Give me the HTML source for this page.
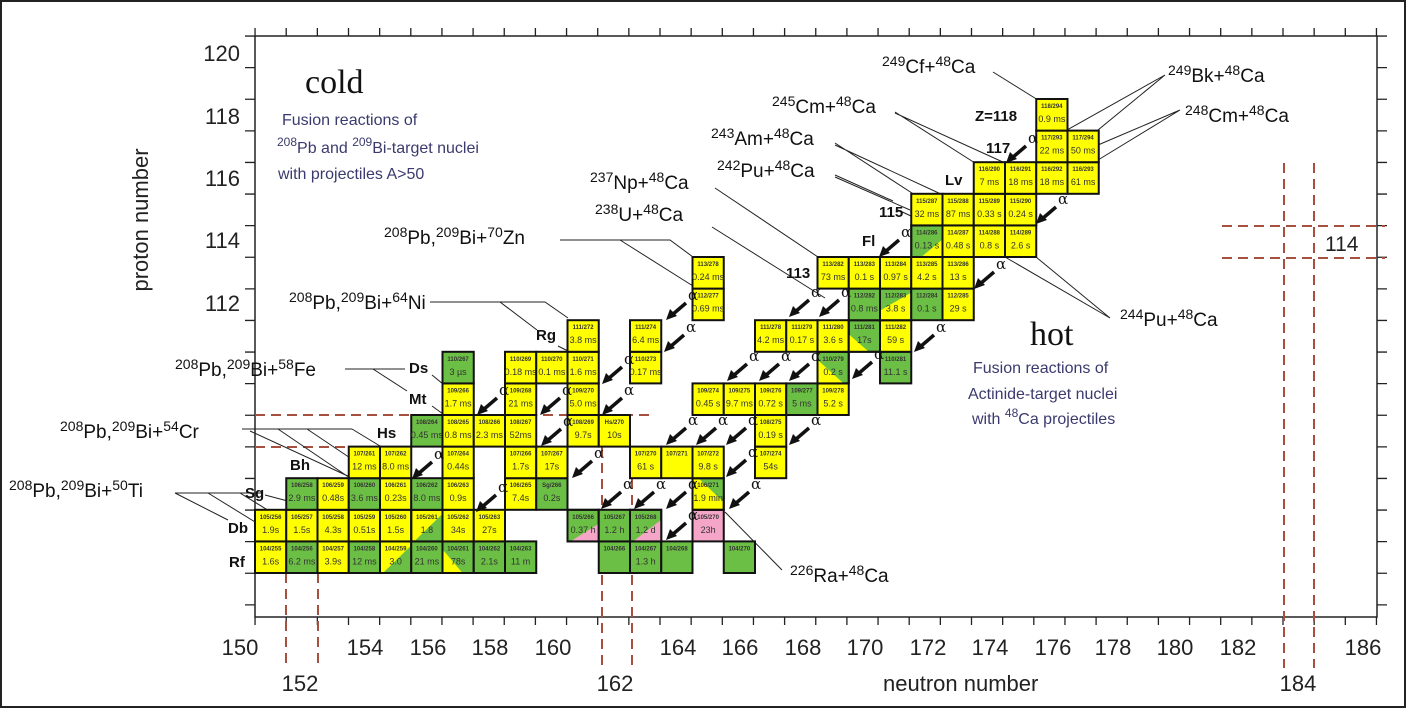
<!DOCTYPE html>
<html><head><meta charset="utf-8"><style>
html,body{margin:0;padding:0;background:#fff}
svg{display:block}
.y{fill:#ffff00}.g{fill:#6cbf45}.p{fill:#f5a6c8}
rect.c{stroke:#111;stroke-width:2}
rect.b{fill:none;stroke:#111;stroke-width:2}
text{font-family:"Liberation Sans",sans-serif}
.a{font-size:6px;font-weight:bold;fill:#333;text-anchor:middle}
.t{font-size:9px;fill:#333;text-anchor:middle}
.el{font-size:15px;font-weight:bold;fill:#111}
.rx{font-size:19px;fill:#111}
.ax{font-size:22px;fill:#222}
.bl{font-size:16px;fill:#3a3a6e}
.ln{stroke:#222;stroke-width:1;fill:none}
.dr{stroke:#a8503f;stroke-width:2;stroke-dasharray:10 6;fill:none}
.al{font-size:15px;fill:#111;font-family:"DejaVu Serif",serif}
.sf{font-family:"Liberation Serif",serif;font-size:34px;fill:#111}
</style></head><body>
<svg width="1407" height="709" viewBox="0 0 1407 709" xmlns="http://www.w3.org/2000/svg">
<rect x="1" y="1" width="1404" height="706" fill="#fff" stroke="#222" stroke-width="2"/>
<rect x="255" y="36" width="1122" height="581" fill="none" stroke="#222" stroke-width="1.5"/>
<line x1="254.4" y1="32" x2="1378" y2="32" stroke="#222" stroke-width="8" stroke-dasharray="1.3 29.85"/>
<line x1="254.4" y1="621" x2="1378" y2="621" stroke="#222" stroke-width="8" stroke-dasharray="1.3 29.85"/>
<line x1="250" y1="35.4" x2="250" y2="618" stroke="#222" stroke-width="10" stroke-dasharray="1.3 30.3"/>
<line x1="1382" y1="35.4" x2="1382" y2="618" stroke="#222" stroke-width="10" stroke-dasharray="1.3 30.3"/>
<g class="ax" text-anchor="end">
<text x="240" y="61">120</text><text x="240" y="124">118</text><text x="240" y="186">116</text><text x="240" y="248">114</text><text x="240" y="311">112</text>
</g>
<text class="ax" transform="translate(148,220) rotate(-90)" text-anchor="middle" font-size="21">proton  number</text>
<g class="ax" text-anchor="middle">
<text x="240" y="655">150</text><text x="365" y="655">154</text><text x="428" y="655">156</text><text x="490" y="655">158</text><text x="553" y="655">160</text>
<text x="678" y="655">164</text><text x="740" y="655">166</text><text x="803" y="655">168</text><text x="865" y="655">170</text><text x="928" y="655">172</text>
<text x="990" y="655">174</text><text x="1053" y="655">176</text><text x="1113" y="655">178</text><text x="1175" y="655">180</text><text x="1238" y="655">182</text><text x="1363" y="655">186</text>
<text x="300" y="691">152</text><text x="615" y="691">162</text><text x="1298" y="691">184</text>
</g>
<text class="ax" x="883" y="691" font-size="20">neutron  number</text>
<path class="dr" d="M286 573V668M318 573V668M602 447V668M632 447V668M255 415H650M255 447H350"/>
<path class="dr" d="M1284 163V668M1314 163V668M1222 226H1385M1222 258H1385" stroke-width="4"/>
<text x="1325" y="251" font-size="21" fill="#222">114</text>
<text x="305" y="93" class="sf" style="font-family:'Liberation Serif',serif">cold</text>
<text class="bl" x="282" y="125">Fusion reactions of</text>
<text class="bl" x="277" y="153"><tspan font-size="12" dy="-7">208</tspan><tspan dy="7">Pb and </tspan><tspan font-size="12" dy="-7">209</tspan><tspan dy="7">Bi-target nuclei</tspan></text>
<text class="bl" x="278" y="179">with  projectiles A&gt;50</text>
<text x="1030" y="345" class="sf" style="font-family:'Liberation Serif',serif">hot</text>
<text class="bl" x="973" y="373">Fusion reactions of</text>
<text class="bl" x="968" y="399">Actinide-target  nuclei</text>
<text class="bl" x="972" y="424">with <tspan font-size="12" dy="-7">48</tspan><tspan dy="7">Ca projectiles</tspan></text>
<g class="rx">
<text x="9" y="497"><tspan font-size="14" dy="-7">208</tspan><tspan dy="7">Pb,</tspan><tspan font-size="14" dy="-7">209</tspan><tspan dy="7">Bi+</tspan><tspan font-size="14" dy="-7">50</tspan><tspan dy="7">Ti</tspan></text>
<text x="60" y="438"><tspan font-size="14" dy="-7">208</tspan><tspan dy="7">Pb,</tspan><tspan font-size="14" dy="-7">209</tspan><tspan dy="7">Bi+</tspan><tspan font-size="14" dy="-7">54</tspan><tspan dy="7">Cr</tspan></text>
<text x="175" y="376"><tspan font-size="14" dy="-7">208</tspan><tspan dy="7">Pb,</tspan><tspan font-size="14" dy="-7">209</tspan><tspan dy="7">Bi+</tspan><tspan font-size="14" dy="-7">58</tspan><tspan dy="7">Fe</tspan></text>
<text x="289" y="309"><tspan font-size="14" dy="-7">208</tspan><tspan dy="7">Pb,</tspan><tspan font-size="14" dy="-7">209</tspan><tspan dy="7">Bi+</tspan><tspan font-size="14" dy="-7">64</tspan><tspan dy="7">Ni</tspan></text>
<text x="384" y="244"><tspan font-size="14" dy="-7">208</tspan><tspan dy="7">Pb,</tspan><tspan font-size="14" dy="-7">209</tspan><tspan dy="7">Bi+</tspan><tspan font-size="14" dy="-7">70</tspan><tspan dy="7">Zn</tspan></text>
<text x="595" y="221"><tspan font-size="14" dy="-7">238</tspan><tspan dy="7">U+</tspan><tspan font-size="14" dy="-7">48</tspan><tspan dy="7">Ca</tspan></text>
<text x="590" y="189"><tspan font-size="14" dy="-7">237</tspan><tspan dy="7">Np+</tspan><tspan font-size="14" dy="-7">48</tspan><tspan dy="7">Ca</tspan></text>
<text x="717" y="177"><tspan font-size="14" dy="-7">242</tspan><tspan dy="7">Pu+</tspan><tspan font-size="14" dy="-7">48</tspan><tspan dy="7">Ca</tspan></text>
<text x="711" y="145"><tspan font-size="14" dy="-7">243</tspan><tspan dy="7">Am+</tspan><tspan font-size="14" dy="-7">48</tspan><tspan dy="7">Ca</tspan></text>
<text x="772" y="113"><tspan font-size="14" dy="-7">245</tspan><tspan dy="7">Cm+</tspan><tspan font-size="14" dy="-7">48</tspan><tspan dy="7">Ca</tspan></text>
<text x="882" y="73"><tspan font-size="14" dy="-7">249</tspan><tspan dy="7">Cf+</tspan><tspan font-size="14" dy="-7">48</tspan><tspan dy="7">Ca</tspan></text>
<text x="1168" y="82"><tspan font-size="14" dy="-7">249</tspan><tspan dy="7">Bk+</tspan><tspan font-size="14" dy="-7">48</tspan><tspan dy="7">Ca</tspan></text>
<text x="1185" y="122"><tspan font-size="14" dy="-7">248</tspan><tspan dy="7">Cm+</tspan><tspan font-size="14" dy="-7">48</tspan><tspan dy="7">Ca</tspan></text>
<text x="1120" y="326"><tspan font-size="14" dy="-7">244</tspan><tspan dy="7">Pu+</tspan><tspan font-size="14" dy="-7">48</tspan><tspan dy="7">Ca</tspan></text>
<text x="790" y="582"><tspan font-size="14" dy="-7">226</tspan><tspan dy="7">Ra+</tspan><tspan font-size="14" dy="-7">48</tspan><tspan dy="7">Ca</tspan></text>
</g>
<path class="ln" d="M175 493H262M175 493L228 520M208 493L286 541M240 493L318 541M265 495L318 509
M242 429H352M250 431L350 477M278 429L350 478M307 429L380 478M352 429L380 446
M345 369H405M373 369L407 391M432 375L443 384M432 406L443 414
M430 302H545L568 318M500 302L537 330M558 346L568 351
M560 240H670L693 257M620 240L693 286
M712 227L825 298M715 188L818 257
M835 175L893 201M835 177L910 210M835 143L915 195M835 145L943 195
M895 112L975 163M895 113L1005 163M993 72L1038 100
M1165 75L1067 130M1165 75L1098 130M1180 110L1098 145M1180 110L1098 160
M1110 318L1036 257M1110 318L1005 257M782 570L725 512M898 210L911 216"/>
<g class="el">
<text x="229" y="567">Rf</text><text x="228" y="533">Db</text><text x="245" y="498">Sg</text><text x="290" y="470">Bh</text>
<text x="377" y="438">Hs</text><text x="409" y="404">Mt</text><text x="409" y="373">Ds</text><text x="536" y="340">Rg</text>
<text x="760" y="336">Cn</text><text x="786" y="278">113</text><text x="862" y="246">Fl</text><text x="879" y="217">115</text>
<text x="945" y="185">Lv</text><text x="986" y="153">117</text><text x="975" y="121">Z=118</text>
</g>
<g>
<g transform="translate(255,541.4)"><rect class="c y" width="31.25" height="31.6"/><text class="a" x="15.6" y="9">104/255</text><text class="t" x="15.6" y="23">1.6s</text></g>
<g transform="translate(286.25,541.4)"><rect class="c g" width="31.25" height="31.6"/><text class="a" x="15.6" y="9">104/256</text><text class="t" x="15.6" y="23">6.2 ms</text></g>
<g transform="translate(317.5,541.4)"><rect class="c y" width="31.25" height="31.6"/><text class="a" x="15.6" y="9">104/257</text><text class="t" x="15.6" y="23">3.9s</text></g>
<g transform="translate(348.75,541.4)"><rect class="c g" width="31.25" height="31.6"/><text class="a" x="15.6" y="9">104/258</text><text class="t" x="15.6" y="23">12 ms</text></g>
<g transform="translate(380,541.4)"><rect class="c y" width="31.25" height="31.6"/><polygon class="g" points="31.25,4 31.25,31.6 3,31.6"/><rect class="b" width="31.25" height="31.6"/><text class="a" x="15.6" y="9">104/259</text><text class="t" x="15.6" y="23">3.0</text></g>
<g transform="translate(411.25,541.4)"><rect class="c g" width="31.25" height="31.6"/><text class="a" x="15.6" y="9">104/260</text><text class="t" x="15.6" y="23">21 ms</text></g>
<g transform="translate(442.5,541.4)"><rect class="c g" width="31.25" height="31.6"/><polygon class="y" points="0,31.6 0,8 20,31.6"/><rect class="b" width="31.25" height="31.6"/><text class="a" x="15.6" y="9">104/261</text><text class="t" x="15.6" y="23">78s</text></g>
<g transform="translate(473.75,541.4)"><rect class="c g" width="31.25" height="31.6"/><text class="a" x="15.6" y="9">104/262</text><text class="t" x="15.6" y="23">2.1s</text></g>
<g transform="translate(505,541.4)"><rect class="c g" width="31.25" height="31.6"/><text class="a" x="15.6" y="9">104/263</text><text class="t" x="15.6" y="23">11 m</text></g>
<g transform="translate(598.75,541.4)"><rect class="c g" width="31.25" height="31.6"/><text class="a" x="15.6" y="9">104/266</text></g>
<g transform="translate(630,541.4)"><rect class="c g" width="31.25" height="31.6"/><text class="a" x="15.6" y="9">104/267</text><text class="t" x="15.6" y="23">1.3 h</text></g>
<g transform="translate(661.25,541.4)"><rect class="c g" width="31.25" height="31.6"/><text class="a" x="15.6" y="9">104/268</text></g>
<g transform="translate(723.75,541.4)"><rect class="c g" width="31.25" height="31.6"/><text class="a" x="15.6" y="9">104/270</text></g>
<g transform="translate(255,509.8)"><rect class="c y" width="31.25" height="31.6"/><text class="a" x="15.6" y="9">105/256</text><text class="t" x="15.6" y="23">1.9s</text></g>
<g transform="translate(286.25,509.8)"><rect class="c y" width="31.25" height="31.6"/><text class="a" x="15.6" y="9">105/257</text><text class="t" x="15.6" y="23">1.5s</text></g>
<g transform="translate(317.5,509.8)"><rect class="c y" width="31.25" height="31.6"/><text class="a" x="15.6" y="9">105/258</text><text class="t" x="15.6" y="23">4.3s</text></g>
<g transform="translate(348.75,509.8)"><rect class="c y" width="31.25" height="31.6"/><text class="a" x="15.6" y="9">105/259</text><text class="t" x="15.6" y="23">0.51s</text></g>
<g transform="translate(380,509.8)"><rect class="c y" width="31.25" height="31.6"/><text class="a" x="15.6" y="9">105/260</text><text class="t" x="15.6" y="23">1.5s</text></g>
<g transform="translate(411.25,509.8)"><rect class="c y" width="31.25" height="31.6"/><polygon class="g" points="31.25,4 31.25,31.6 3,31.6"/><rect class="b" width="31.25" height="31.6"/><text class="a" x="15.6" y="9">105/261</text><text class="t" x="15.6" y="23">1.8</text></g>
<g transform="translate(442.5,509.8)"><rect class="c y" width="31.25" height="31.6"/><text class="a" x="15.6" y="9">105/262</text><text class="t" x="15.6" y="23">34s</text></g>
<g transform="translate(473.75,509.8)"><rect class="c y" width="31.25" height="31.6"/><text class="a" x="15.6" y="9">105/263</text><text class="t" x="15.6" y="23">27s</text></g>
<g transform="translate(567.5,509.8)"><rect class="c g" width="31.25" height="31.6"/><polygon class="p" points="3,31.6 31.25,14 31.25,31.6"/><rect class="b" width="31.25" height="31.6"/><text class="a" x="15.6" y="9">105/266</text><text class="t" x="15.6" y="23">0.37 h</text></g>
<g transform="translate(598.75,509.8)"><rect class="c g" width="31.25" height="31.6"/><text class="a" x="15.6" y="9">105/267</text><text class="t" x="15.6" y="23">1.2 h</text></g>
<g transform="translate(630,509.8)"><rect class="c g" width="31.25" height="31.6"/><polygon class="p" points="3,31.6 31.25,10 31.25,31.6"/><rect class="b" width="31.25" height="31.6"/><text class="a" x="15.6" y="9">105/268</text><text class="t" x="15.6" y="23">1.2 d</text></g>
<g transform="translate(692.5,509.8)"><rect class="c p" width="31.25" height="31.6"/><text class="a" x="15.6" y="9">105/270</text><text class="t" x="15.6" y="23">23h</text></g>
<g transform="translate(286.25,478.2)"><rect class="c g" width="31.25" height="31.6"/><text class="a" x="15.6" y="9">106/258</text><text class="t" x="15.6" y="23">2.9 ms</text></g>
<g transform="translate(317.5,478.2)"><rect class="c y" width="31.25" height="31.6"/><text class="a" x="15.6" y="9">106/259</text><text class="t" x="15.6" y="23">0.48s</text></g>
<g transform="translate(348.75,478.2)"><rect class="c g" width="31.25" height="31.6"/><text class="a" x="15.6" y="9">106/260</text><text class="t" x="15.6" y="23">3.6 ms</text></g>
<g transform="translate(380,478.2)"><rect class="c y" width="31.25" height="31.6"/><text class="a" x="15.6" y="9">106/261</text><text class="t" x="15.6" y="23">0.23s</text></g>
<g transform="translate(411.25,478.2)"><rect class="c g" width="31.25" height="31.6"/><text class="a" x="15.6" y="9">106/262</text><text class="t" x="15.6" y="23">8.0 ms</text></g>
<g transform="translate(442.5,478.2)"><rect class="c y" width="31.25" height="31.6"/><text class="a" x="15.6" y="9">106/263</text><text class="t" x="15.6" y="23">0.9s</text></g>
<g transform="translate(505,478.2)"><rect class="c y" width="31.25" height="31.6"/><text class="a" x="15.6" y="9">106/265</text><text class="t" x="15.6" y="23">7.4s</text></g>
<g transform="translate(536.25,478.2)"><rect class="c g" width="31.25" height="31.6"/><text class="a" x="15.6" y="9">Sg/266</text><text class="t" x="15.6" y="23">0.2s</text></g>
<g transform="translate(692.5,478.2)"><rect class="c y" width="31.25" height="31.6"/><polygon class="g" points="6,0 31.25,0 31.25,24"/><rect class="b" width="31.25" height="31.6"/><text class="a" x="15.6" y="9">106/271</text><text class="t" x="15.6" y="23">1.9 min</text></g>
<g transform="translate(348.75,446.6)"><rect class="c y" width="31.25" height="31.6"/><text class="a" x="15.6" y="9">107/261</text><text class="t" x="15.6" y="23">12 ms</text></g>
<g transform="translate(380,446.6)"><rect class="c y" width="31.25" height="31.6"/><text class="a" x="15.6" y="9">107/262</text><text class="t" x="15.6" y="23">8.0 ms</text></g>
<g transform="translate(442.5,446.6)"><rect class="c y" width="31.25" height="31.6"/><text class="a" x="15.6" y="9">107/264</text><text class="t" x="15.6" y="23">0.44s</text></g>
<g transform="translate(505,446.6)"><rect class="c y" width="31.25" height="31.6"/><text class="a" x="15.6" y="9">107/266</text><text class="t" x="15.6" y="23">1.7s</text></g>
<g transform="translate(536.25,446.6)"><rect class="c y" width="31.25" height="31.6"/><text class="a" x="15.6" y="9">107/267</text><text class="t" x="15.6" y="23">17s</text></g>
<g transform="translate(630,446.6)"><rect class="c y" width="31.25" height="31.6"/><text class="a" x="15.6" y="9">107/270</text><text class="t" x="15.6" y="23">61 s</text></g>
<g transform="translate(661.25,446.6)"><rect class="c y" width="31.25" height="31.6"/><text class="a" x="15.6" y="9">107/271</text></g>
<g transform="translate(692.5,446.6)"><rect class="c y" width="31.25" height="31.6"/><text class="a" x="15.6" y="9">107/272</text><text class="t" x="15.6" y="23">9.8 s</text></g>
<g transform="translate(755,446.6)"><rect class="c y" width="31.25" height="31.6"/><text class="a" x="15.6" y="9">107/274</text><text class="t" x="15.6" y="23">54s</text></g>
<g transform="translate(411.25,415)"><rect class="c g" width="31.25" height="31.6"/><text class="a" x="15.6" y="9">108/264</text><text class="t" x="15.6" y="23">0.45 ms</text></g>
<g transform="translate(442.5,415)"><rect class="c y" width="31.25" height="31.6"/><text class="a" x="15.6" y="9">108/265</text><text class="t" x="15.6" y="23">0.8 ms</text></g>
<g transform="translate(473.75,415)"><rect class="c y" width="31.25" height="31.6"/><text class="a" x="15.6" y="9">108/266</text><text class="t" x="15.6" y="23">2.3 ms</text></g>
<g transform="translate(505,415)"><rect class="c y" width="31.25" height="31.6"/><text class="a" x="15.6" y="9">108/267</text><text class="t" x="15.6" y="23">52ms</text></g>
<g transform="translate(567.5,415)"><rect class="c y" width="31.25" height="31.6"/><text class="a" x="15.6" y="9">108/269</text><text class="t" x="15.6" y="23">9.7s</text></g>
<g transform="translate(598.75,415)"><rect class="c y" width="31.25" height="31.6"/><text class="a" x="15.6" y="9">Hs/270</text><text class="t" x="15.6" y="23">10s</text></g>
<g transform="translate(755,415)"><rect class="c y" width="31.25" height="31.6"/><text class="a" x="15.6" y="9">108/275</text><text class="t" x="15.6" y="23">0.19 s</text></g>
<g transform="translate(442.5,383.4)"><rect class="c y" width="31.25" height="31.6"/><text class="a" x="15.6" y="9">109/266</text><text class="t" x="15.6" y="23">1.7 ms</text></g>
<g transform="translate(505,383.4)"><rect class="c y" width="31.25" height="31.6"/><text class="a" x="15.6" y="9">109/268</text><text class="t" x="15.6" y="23">21 ms</text></g>
<g transform="translate(567.5,383.4)"><rect class="c y" width="31.25" height="31.6"/><text class="a" x="15.6" y="9">109/270</text><text class="t" x="15.6" y="23">5.0 ms</text></g>
<g transform="translate(692.5,383.4)"><rect class="c y" width="31.25" height="31.6"/><text class="a" x="15.6" y="9">109/274</text><text class="t" x="15.6" y="23">0.45 s</text></g>
<g transform="translate(723.75,383.4)"><rect class="c y" width="31.25" height="31.6"/><text class="a" x="15.6" y="9">109/275</text><text class="t" x="15.6" y="23">9.7 ms</text></g>
<g transform="translate(755,383.4)"><rect class="c y" width="31.25" height="31.6"/><text class="a" x="15.6" y="9">109/276</text><text class="t" x="15.6" y="23">0.72 s</text></g>
<g transform="translate(786.25,383.4)"><rect class="c g" width="31.25" height="31.6"/><text class="a" x="15.6" y="9">109/277</text><text class="t" x="15.6" y="23">5 ms</text></g>
<g transform="translate(817.5,383.4)"><rect class="c y" width="31.25" height="31.6"/><text class="a" x="15.6" y="9">109/278</text><text class="t" x="15.6" y="23">5.2 s</text></g>
<g transform="translate(442.5,351.8)"><rect class="c g" width="31.25" height="31.6"/><text class="a" x="15.6" y="9">110/267</text><text class="t" x="15.6" y="23">3 µs</text></g>
<g transform="translate(505,351.8)"><rect class="c y" width="31.25" height="31.6"/><text class="a" x="15.6" y="9">110/269</text><text class="t" x="15.6" y="23">0.18 ms</text></g>
<g transform="translate(536.25,351.8)"><rect class="c y" width="31.25" height="31.6"/><text class="a" x="15.6" y="9">110/270</text><text class="t" x="15.6" y="23">0.1 ms</text></g>
<g transform="translate(567.5,351.8)"><rect class="c y" width="31.25" height="31.6"/><text class="a" x="15.6" y="9">110/271</text><text class="t" x="15.6" y="23">1.6 ms</text></g>
<g transform="translate(630,351.8)"><rect class="c y" width="31.25" height="31.6"/><text class="a" x="15.6" y="9">110/273</text><text class="t" x="15.6" y="23">0.17 ms</text></g>
<g transform="translate(817.5,351.8)"><rect class="c g" width="31.25" height="31.6"/><polygon class="y" points="0,8 0,31.6 26,31.6"/><rect class="b" width="31.25" height="31.6"/><text class="a" x="15.6" y="9">110/279</text><text class="t" x="15.6" y="23">0.2 s</text></g>
<g transform="translate(880,351.8)"><rect class="c g" width="31.25" height="31.6"/><text class="a" x="15.6" y="9">110/281</text><text class="t" x="15.6" y="23">11.1 s</text></g>
<g transform="translate(567.5,320.2)"><rect class="c y" width="31.25" height="31.6"/><text class="a" x="15.6" y="9">111/272</text><text class="t" x="15.6" y="23">3.8 ms</text></g>
<g transform="translate(630,320.2)"><rect class="c y" width="31.25" height="31.6"/><text class="a" x="15.6" y="9">111/274</text><text class="t" x="15.6" y="23">6.4 ms</text></g>
<g transform="translate(755,320.2)"><rect class="c y" width="31.25" height="31.6"/><text class="a" x="15.6" y="9">111/278</text><text class="t" x="15.6" y="23">4.2 ms</text></g>
<g transform="translate(786.25,320.2)"><rect class="c y" width="31.25" height="31.6"/><text class="a" x="15.6" y="9">111/279</text><text class="t" x="15.6" y="23">0.17 s</text></g>
<g transform="translate(817.5,320.2)"><rect class="c y" width="31.25" height="31.6"/><text class="a" x="15.6" y="9">111/280</text><text class="t" x="15.6" y="23">3.6 s</text></g>
<g transform="translate(848.75,320.2)"><rect class="c g" width="31.25" height="31.6"/><polygon class="y" points="0,14 0,31.6 20,31.6"/><rect class="b" width="31.25" height="31.6"/><text class="a" x="15.6" y="9">111/281</text><text class="t" x="15.6" y="23">17s</text></g>
<g transform="translate(880,320.2)"><rect class="c y" width="31.25" height="31.6"/><text class="a" x="15.6" y="9">111/282</text><text class="t" x="15.6" y="23">59 s</text></g>
<g transform="translate(692.5,288.6)"><rect class="c y" width="31.25" height="31.6"/><text class="a" x="15.6" y="9">112/277</text><text class="t" x="15.6" y="23">0.69 ms</text></g>
<g transform="translate(848.75,288.6)"><rect class="c g" width="31.25" height="31.6"/><text class="a" x="15.6" y="9">112/282</text><text class="t" x="15.6" y="23">0.8 ms</text></g>
<g transform="translate(880,288.6)"><rect class="c g" width="31.25" height="31.6"/><polygon class="y" points="0,31.6 0,22 31.25,4 31.25,31.6"/><rect class="b" width="31.25" height="31.6"/><text class="a" x="15.6" y="9">112/283</text><text class="t" x="15.6" y="23">3.8 s</text></g>
<g transform="translate(911.25,288.6)"><rect class="c g" width="31.25" height="31.6"/><text class="a" x="15.6" y="9">112/284</text><text class="t" x="15.6" y="23">0.1 s</text></g>
<g transform="translate(942.5,288.6)"><rect class="c y" width="31.25" height="31.6"/><text class="a" x="15.6" y="9">112/285</text><text class="t" x="15.6" y="23">29 s</text></g>
<g transform="translate(692.5,257)"><rect class="c y" width="31.25" height="31.6"/><text class="a" x="15.6" y="9">113/278</text><text class="t" x="15.6" y="23">0.24 ms</text></g>
<g transform="translate(817.5,257)"><rect class="c y" width="31.25" height="31.6"/><text class="a" x="15.6" y="9">113/282</text><text class="t" x="15.6" y="23">73 ms</text></g>
<g transform="translate(848.75,257)"><rect class="c y" width="31.25" height="31.6"/><text class="a" x="15.6" y="9">113/283</text><text class="t" x="15.6" y="23">0.1 s</text></g>
<g transform="translate(880,257)"><rect class="c y" width="31.25" height="31.6"/><text class="a" x="15.6" y="9">113/284</text><text class="t" x="15.6" y="23">0.97 s</text></g>
<g transform="translate(911.25,257)"><rect class="c y" width="31.25" height="31.6"/><text class="a" x="15.6" y="9">113/285</text><text class="t" x="15.6" y="23">4.2 s</text></g>
<g transform="translate(942.5,257)"><rect class="c y" width="31.25" height="31.6"/><text class="a" x="15.6" y="9">113/286</text><text class="t" x="15.6" y="23">13 s</text></g>
<g transform="translate(911.25,225.4)"><rect class="c g" width="31.25" height="31.6"/><polygon class="y" points="10,31.6 31.25,31.6 31.25,14"/><rect class="b" width="31.25" height="31.6"/><text class="a" x="15.6" y="9">114/286</text><text class="t" x="15.6" y="23">0.13 s</text></g>
<g transform="translate(942.5,225.4)"><rect class="c y" width="31.25" height="31.6"/><text class="a" x="15.6" y="9">114/287</text><text class="t" x="15.6" y="23">0.48 s</text></g>
<g transform="translate(973.75,225.4)"><rect class="c y" width="31.25" height="31.6"/><text class="a" x="15.6" y="9">114/288</text><text class="t" x="15.6" y="23">0.8 s</text></g>
<g transform="translate(1005,225.4)"><rect class="c y" width="31.25" height="31.6"/><text class="a" x="15.6" y="9">114/289</text><text class="t" x="15.6" y="23">2.6 s</text></g>
<g transform="translate(911.25,193.8)"><rect class="c y" width="31.25" height="31.6"/><text class="a" x="15.6" y="9">115/287</text><text class="t" x="15.6" y="23">32 ms</text></g>
<g transform="translate(942.5,193.8)"><rect class="c y" width="31.25" height="31.6"/><text class="a" x="15.6" y="9">115/288</text><text class="t" x="15.6" y="23">87 ms</text></g>
<g transform="translate(973.75,193.8)"><rect class="c y" width="31.25" height="31.6"/><text class="a" x="15.6" y="9">115/289</text><text class="t" x="15.6" y="23">0.33 s</text></g>
<g transform="translate(1005,193.8)"><rect class="c y" width="31.25" height="31.6"/><text class="a" x="15.6" y="9">115/290</text><text class="t" x="15.6" y="23">0.24 s</text></g>
<g transform="translate(973.75,162.2)"><rect class="c y" width="31.25" height="31.6"/><text class="a" x="15.6" y="9">116/290</text><text class="t" x="15.6" y="23">7 ms</text></g>
<g transform="translate(1005,162.2)"><rect class="c y" width="31.25" height="31.6"/><text class="a" x="15.6" y="9">116/291</text><text class="t" x="15.6" y="23">18 ms</text></g>
<g transform="translate(1036.25,162.2)"><rect class="c y" width="31.25" height="31.6"/><text class="a" x="15.6" y="9">116/292</text><text class="t" x="15.6" y="23">18 ms</text></g>
<g transform="translate(1067.5,162.2)"><rect class="c y" width="31.25" height="31.6"/><text class="a" x="15.6" y="9">116/293</text><text class="t" x="15.6" y="23">61 ms</text></g>
<g transform="translate(1036.25,130.6)"><rect class="c y" width="31.25" height="31.6"/><text class="a" x="15.6" y="9">117/293</text><text class="t" x="15.6" y="23">22 ms</text></g>
<g transform="translate(1067.5,130.6)"><rect class="c y" width="31.25" height="31.6"/><text class="a" x="15.6" y="9">117/294</text><text class="t" x="15.6" y="23">50 ms</text></g>
<g transform="translate(1036.25,99)"><rect class="c y" width="31.25" height="31.6"/><text class="a" x="15.6" y="9">118/294</text><text class="t" x="15.6" y="23">0.9 ms</text></g>
</g>
<defs>
<g id="ar"><line x1="0" y1="0" x2="-14" y2="12" stroke="#111" stroke-width="3.5"/><polygon points="-20,17 -16,6 -9,13" fill="#111"/><text x="2" y="-3" class="al">α</text></g>
</defs>
<use href="#ar" x="497" y="398"/><use href="#ar" x="560" y="398"/><use href="#ar" x="622" y="367"/><use href="#ar" x="622" y="398"/>
<use href="#ar" x="561" y="429"/><use href="#ar" x="432" y="462"/><use href="#ar" x="592" y="461"/><use href="#ar" x="496" y="495"/>
<use href="#ar" x="621" y="492"/><use href="#ar" x="686" y="303"/><use href="#ar" x="684" y="335"/><use href="#ar" x="686" y="428"/>
<use href="#ar" x="716" y="428"/><use href="#ar" x="746" y="428"/><use href="#ar" x="809" y="428"/><use href="#ar" x="746" y="460"/>
<use href="#ar" x="654" y="492"/><use href="#ar" x="686" y="492"/><use href="#ar" x="749" y="492"/><use href="#ar" x="686" y="523"/>
<use href="#ar" x="747" y="364"/><use href="#ar" x="779" y="364"/><use href="#ar" x="809" y="364"/><use href="#ar" x="809" y="300"/>
<use href="#ar" x="839" y="300"/><use href="#ar" x="899" y="240"/><use href="#ar" x="994" y="272"/><use href="#ar" x="934" y="335"/>
<use href="#ar" x="872" y="362"/><use href="#ar" x="1056" y="207"/><use href="#ar" x="1026" y="146"/>
</svg>
</body></html>
